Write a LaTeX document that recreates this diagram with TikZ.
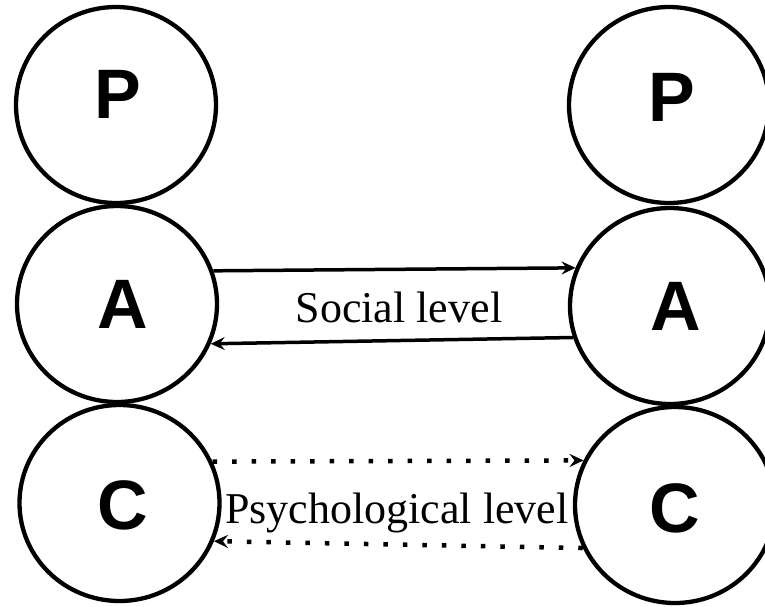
\documentclass[tikz,border=0pt]{standalone}
\usepackage{fontspec}
\setmainfont{Liberation Serif}
\newfontfamily\letterfont{Liberation Sans}
\usetikzlibrary{arrows.meta,shapes.geometric}

\begin{document}
\begin{tikzpicture}[x=1pt,y=-1pt,
  ring/.style={draw, ellipse, line width=4.3pt, minimum width=200pt,
               minimum height=196pt, inner sep=0pt},
  letter/.style={anchor=base, inner sep=0pt,
                 font=\letterfont\bfseries\fontsize{70}{80}\selectfont},
  levellabel/.style={anchor=base, inner sep=0pt,
                     font=\fontsize{44}{50}\selectfont},
  flow/.style={line width=3.5pt,
               -{Stealth[length=14pt,width=13pt,inset=5pt]}},
  dotflow/.style={flow, line width=4.5pt, dash pattern=on 4.5pt off 15pt}
]
\useasboundingbox (0,0) rectangle (765,606);

% left column: Parent, Adult, Child
\node[ring] (lP) at (116,105) {};
\node[ring] (lA) at (117,304) {};
\node[ring] (lC) at (119.5,503) {};
% right column
\node[ring] (rP) at (669,105) {};
\node[ring] (rA) at (670,306) {};
\node[ring] (rC) at (675,505) {};

% ego-state letters
\node[letter] (lPt) at (118,118) {P};
\node[letter] (lAt) at (122.5,328) {A};
\node[letter] (lCt) at (122.5,529.5) {C};
\node[letter] (rPt) at (671.5,121.5) {P};
\node[letter] (rAt) at (676,330) {A};
\node[letter] (rCt) at (675,532) {C};

% social level transactions
\draw[flow] (lA.19) -- (rA.158);
\draw[flow] (rA.198.5) -- (lA.-23);
\node[levellabel] (social) at (399,322) {Social level};

% psychological level transactions
\draw[dotflow] (lC.24) -- (rC.154);
\draw[dotflow] (rC.205) -- (lC.-22.5);
\node[levellabel] (psych) at (397,523) {Psychological level};
\end{tikzpicture}
\end{document}
